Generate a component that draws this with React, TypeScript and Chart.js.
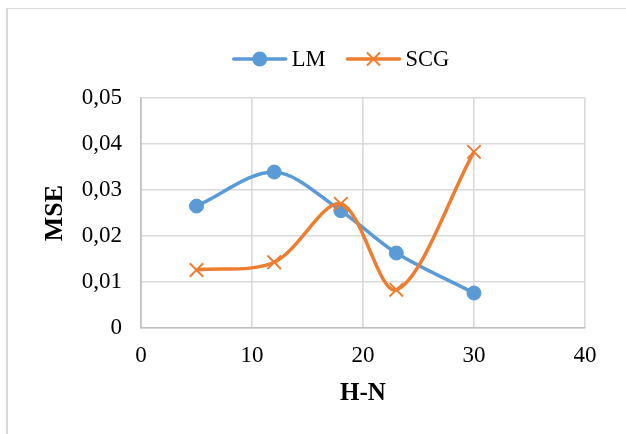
import React, { useEffect, useRef } from 'react';
import { Chart, registerables } from 'chart.js';

Chart.register(...registerables);

// ---- data ----
const hnValues = [5, 12, 18, 23, 30];
const lmValues = [0.0265, 0.0339, 0.0255, 0.0163, 0.0076];
const scgValues = [0.0126, 0.0143, 0.027, 0.0083, 0.0383];
const seriesLabels = ['LM', 'SCG'];
const xAxisTitle = 'H-N';
const yAxisTitle = 'MSE';

const FONT = '"Liberation Serif", "Times New Roman", serif';
const BLUE = '#5B9BD5';
const ORANGE = '#ED7D31';

const fmtY = (v: number) => {
  const r = Math.round(v * 100) / 100;
  if (r === 0) return '0';
  return r.toFixed(2).replace('.', ',');
};

const framePlugin = {
  id: 'frameAndLegend',
  beforeDraw(chart: any) {
    const ctx = chart.ctx;
    ctx.save();
    ctx.fillStyle = '#ffffff';
    ctx.fillRect(0, 0, chart.width, chart.height);
    ctx.fillStyle = '#d9d9d9';
    ctx.fillRect(6, 8, 2, chart.height - 8);
    ctx.fillRect(6, 8, chart.width - 6, 1);
    ctx.restore();
  },
  afterDraw(chart: any) {
    const ctx = chart.ctx;
    const cy = 59;
    const lineW = 54;
    const textGap = 5;
    const itemGap = 21;
    ctx.save();
    ctx.font = `22.5px ${FONT}`;
    const items = chart.data.datasets.map((ds: any) => ({
      label: ds.label,
      color: ds.borderColor,
      style: ds.pointStyle,
      w: ctx.measureText(ds.label).width,
    }));
    let total = 0;
    items.forEach((it: any, i: number) => {
      total += lineW + textGap + it.w + (i > 0 ? itemGap : 0);
    });
    let x = 341 - total / 2;
    items.forEach((it: any) => {
      ctx.strokeStyle = it.color;
      ctx.fillStyle = it.color;
      ctx.lineWidth = 3.5;
      ctx.lineCap = 'round';
      ctx.beginPath();
      ctx.moveTo(x + 1, cy);
      ctx.lineTo(x + lineW - 1, cy);
      ctx.stroke();
      const mx = x + lineW / 2;
      if (it.style === 'circle') {
        ctx.beginPath();
        ctx.arc(mx, cy, 7.5, 0, Math.PI * 2);
        ctx.fill();
      } else {
        ctx.lineWidth = 2;
        ctx.lineCap = 'butt';
        const h = 6.5;
        ctx.beginPath();
        ctx.moveTo(mx - h, cy - h);
        ctx.lineTo(mx + h, cy + h);
        ctx.moveTo(mx - h, cy + h);
        ctx.lineTo(mx + h, cy - h);
        ctx.stroke();
      }
      ctx.fillStyle = '#000000';
      ctx.textBaseline = 'middle';
      ctx.textAlign = 'left';
      ctx.fillText(it.label, x + lineW + textGap, cy + 1);
      x += lineW + textGap + it.w + itemGap;
    });
    ctx.restore();
  },
};

export default function App() {
  const ref = useRef<HTMLCanvasElement | null>(null);

  useEffect(() => {
    if (!ref.current) return;
    const chart = new Chart(ref.current, {
      type: 'line',
      data: {
        datasets: [
          {
            label: seriesLabels[0],
            data: hnValues.map((x, i) => ({ x, y: lmValues[i] })),
            borderColor: BLUE,
            backgroundColor: BLUE,
            borderWidth: 3.5,
            pointStyle: 'circle',
            pointRadius: 7,
            pointBorderWidth: 1,
            pointBackgroundColor: BLUE,
            pointBorderColor: BLUE,
            tension: 0.32,
            fill: false,
            order: 1,
          },
          {
            label: seriesLabels[1],
            data: hnValues.map((x, i) => ({ x, y: scgValues[i] })),
            borderColor: ORANGE,
            backgroundColor: ORANGE,
            borderWidth: 3.5,
            pointStyle: 'crossRot',
            pointRadius: 9.5,
            pointBorderWidth: 2,
            pointBackgroundColor: ORANGE,
            pointBorderColor: ORANGE,
            tension: 0.32,
            fill: false,
            order: 0,
          },
        ],
      },
      options: {
        responsive: false,
        animation: false,
        devicePixelRatio: 1,
        layout: { padding: { top: 98, right: 41, left: 0, bottom: 0 } },
        plugins: {
          legend: { display: false },
          tooltip: { enabled: false },
        },
        scales: {
          x: {
            type: 'linear',
            min: 0,
            max: 40,
            ticks: {
              stepSize: 10,
              padding: 14,
              color: '#000000',
              font: { family: FONT, size: 23 },
            },
            grid: { color: '#d9d9d9', lineWidth: 1.6, drawTicks: false },
            border: { color: '#bfbfbf', width: 1.6 },
            title: {
              display: true,
              text: xAxisTitle,
              color: '#000000',
              font: { family: FONT, size: 25, weight: 'bold' },
              padding: { top: 0, bottom: 25 },
            },
            afterFit: (s: any) => {
              s.height = 434 - 328;
            },
          },
          y: {
            min: 0,
            max: 0.05,
            ticks: {
              stepSize: 0.01,
              padding: 19,
              color: '#000000',
              font: { family: FONT, size: 23 },
              callback: (v: any) => fmtY(Number(v)),
            },
            grid: { color: '#d9d9d9', lineWidth: 1.6, drawTicks: false },
            border: { color: '#bfbfbf', width: 1.6 },
            title: {
              display: true,
              text: yAxisTitle,
              color: '#000000',
              font: { family: FONT, size: 26, weight: 'bold' },
              padding: { top: 40, bottom: 0 },
            },
            afterFit: (s: any) => {
              s.width = 141;
            },
          },
        },
      },
      plugins: [framePlugin],
    } as any);
    return () => chart.destroy();
  }, []);

  return (
    <div style={{ position: 'fixed', left: 0, top: 0, width: 626, height: 434, background: '#fff' }}>
      <canvas ref={ref} width={626} height={434} style={{ display: 'block', width: 626, height: 434 }} />
    </div>
  );
}
